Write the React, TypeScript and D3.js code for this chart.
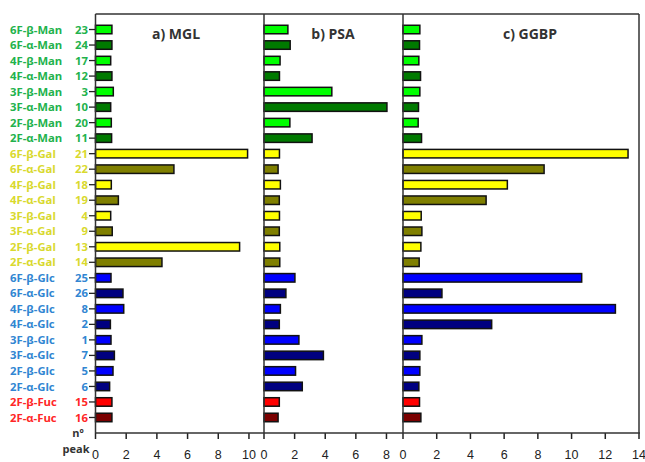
import React from 'react';
import * as d3 from 'd3';

// rows, top to bottom
const compounds = [
  '6F-β-Man', '6F-α-Man', '4F-β-Man', '4F-α-Man', '3F-β-Man', '3F-α-Man', '2F-β-Man', '2F-α-Man',
  '6F-β-Gal', '6F-α-Gal', '4F-β-Gal', '4F-α-Gal', '3F-β-Gal', '3F-α-Gal', '2F-β-Gal', '2F-α-Gal',
  '6F-β-Glc', '6F-α-Glc', '4F-β-Glc', '4F-α-Glc', '3F-β-Glc', '3F-α-Glc', '2F-β-Glc', '2F-α-Glc',
  '2F-β-Fuc', '2F-α-Fuc',
];
const peaks = [23, 24, 17, 12, 3, 10, 20, 11, 21, 22, 18, 19, 4, 9, 13, 14, 25, 26, 8, 2, 1, 7, 5, 6, 15, 16];

const mglValues = [1.07, 1.07, 0.99, 1.07, 1.16, 0.99, 1.03, 1.05, 9.91, 5.11, 1.03, 1.49, 0.99, 1.09, 9.39, 4.33,
  1.01, 1.79, 1.84, 0.97, 1.01, 1.23, 1.14, 0.92, 1.07, 1.07];
const psaValues = [1.56, 1.71, 1.05, 1.01, 4.43, 8.03, 1.69, 3.14, 1.01, 0.92, 1.07, 1.0, 1.01, 1.0, 1.03, 1.03,
  2.02, 1.43, 1.07, 1.0, 2.28, 3.88, 2.06, 2.5, 1.0, 0.92];
const ggbpValues = [1.0, 0.98, 0.94, 1.04, 1.0, 0.92, 0.9, 1.1, 13.35, 8.37, 6.19, 4.93, 1.08, 1.12, 1.06, 0.96,
  10.6, 2.31, 12.6, 5.26, 1.12, 1.0, 1.0, 0.94, 0.98, 1.06];

const panelTitles = ['a) MGL', 'b) PSA', 'c) GGBP'];
const panelTicks = [[0, 2, 4, 6, 8, 10], [0, 2, 4, 6, 8], [0, 2, 4, 6, 8, 10, 12, 14]];

const labelColor: Record<string, string> = { Man: '#22b24c', Gal: '#d9d92e', Glc: '#3186d2', Fuc: '#ff2626' };
const barColor: Record<string, [string, string]> = {
  Man: ['#00ff00', '#007a00'],
  Gal: ['#ffff00', '#7f7f00'],
  Glc: ['#0000ff', '#000080'],
  Fuc: ['#ff0000', '#7a0000'],
};

const sugarOf = (c: string) => c.slice(-3);
const fillOf = (c: string) => barColor[sugarOf(c)][c.includes('β') ? 0 : 1];

export default function App() {
  const width = 645;
  const height = 462;
  const top = 14;
  const bottom = 433;
  const font = "'Open Sans', sans-serif";

  const y = d3.scalePoint<string>().domain(compounds).range([top, bottom]).padding(1);
  const barH = 8.5;

  const panels = [
    { values: mglValues, x: d3.scaleLinear().domain([0, 10.98]).range([95.5, 264]) },
    { values: psaValues, x: d3.scaleLinear().domain([0, 9.08]).range([264, 403]) },
    { values: ggbpValues, x: d3.scaleLinear().domain([0, 14]).range([403, 639]) },
  ];
  const titleX = [176, 333, 530];

  return (
    <svg width={width} height={height} style={{ position: 'absolute', left: 0, top: 0, background: '#fff' }}>
      {/* row labels */}
      {compounds.map((c, i) => (
        <g key={c} fontFamily={font} fontWeight="bold" fontSize={11.3} fill={labelColor[sugarOf(c)]}>
          <text x={10} y={y(c)} dy="0.36em">{c}</text>
          <text x={88} y={y(c)} dy="0.36em" textAnchor="end">{peaks[i]}</text>
          <line x1={89} x2={95.5} y1={y(c)} y2={y(c)} stroke="#222" strokeWidth={1.3} />
        </g>
      ))}
      <text x={78} y={433} dy="0.36em" textAnchor="middle" fontFamily={font} fontWeight="bold" fontSize={11} fill="#333">nº</text>
      <text x={76} y={449} dy="0.36em" textAnchor="middle" fontFamily={font} fontWeight="bold" fontSize={11} fill="#333">peak</text>

      {panels.map((p, pi) => (
        <g key={pi}>
          {p.values.map((v, i) => (
            <rect key={i} x={p.x(0)} y={(y(compounds[i]) as number) - barH / 2}
              width={p.x(v) - p.x(0)} height={barH}
              fill={fillOf(compounds[i])} stroke="#111" strokeWidth={1.5} />
          ))}
          {panelTicks[pi].map(t => (
            <g key={t}>
              <line x1={p.x(t)} x2={p.x(t)} y1={bottom} y2={bottom + 6} stroke="#222" strokeWidth={1.5} />
              <text x={p.x(t)} y={459} textAnchor="middle" fontFamily="'Liberation Sans', Arial, sans-serif"
                fontSize={12.5} fill="#222">{t}</text>
            </g>
          ))}
          <text x={titleX[pi]} y={39} textAnchor="middle" fontFamily={font} fontWeight="bold" fontSize={14} fill="#333">
            {panelTitles[pi]}
          </text>
        </g>
      ))}

      {/* frame */}
      <g stroke="#333" strokeWidth={1.5} fill="none">
        <line x1={95.5} x2={639} y1={top} y2={top} />
        <line x1={95.5} x2={640} y1={bottom} y2={bottom} />
        <line x1={95.5} x2={95.5} y1={top} y2={bottom} />
        <line x1={264} x2={264} y1={top} y2={bottom} />
        <line x1={403} x2={403} y1={top} y2={bottom} />
        <line x1={639} x2={639} y1={top} y2={bottom} />
      </g>
    </svg>
  );
}
